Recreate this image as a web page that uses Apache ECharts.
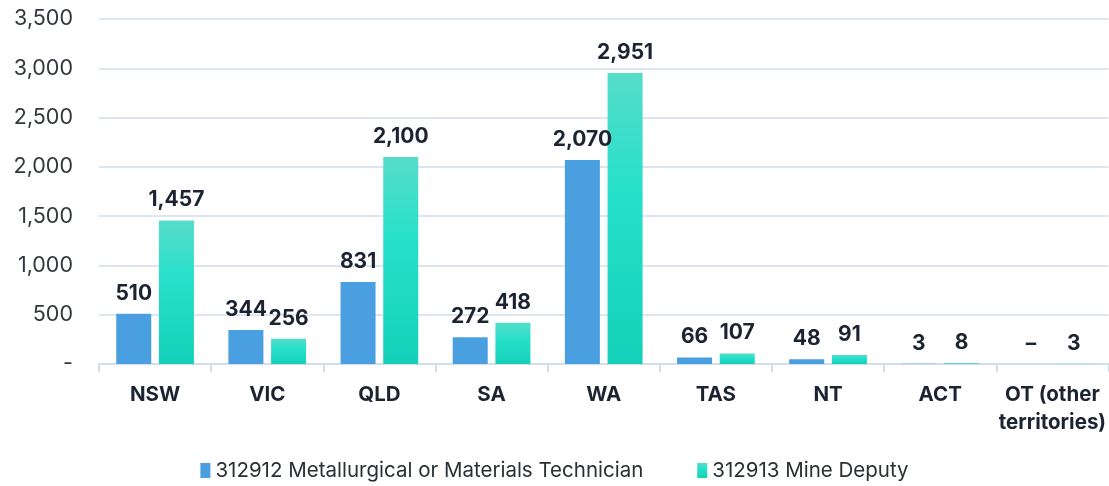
<!DOCTYPE html>
<html><head><meta charset="utf-8">
<script src="https://cdn.jsdelivr.net/npm/echarts@6/dist/echarts.min.js"></script>
<style>html,body{margin:0;padding:0;background:#fff}#c{width:1109px;height:486px}</style>
</head><body><div id="c"></div>
<script>
var categories = ['NSW','VIC','QLD','SA','WA','TAS','NT','ACT','OT (other\nterritories)'];
var seriesNames = ['312912 Metallurgical or Materials Technician','312913 Mine Deputy'];
var metallurgical = [510,344,831,272,2070,66,48,3,0];
var mineDeputy = [1457,256,2100,418,2951,107,91,8,3];
var yTicks = [0,500,1000,1500,2000,2500,3000,3500];

var font = 'Inter, "Noto Sans", sans-serif';
function fmt(v){ return v === 0 ? '–' : v.toLocaleString('en-US'); }
var labelStyle = {show:true, position:'top', distance:10, fontFamily:font, fontWeight:'bold', fontSize:21, color:'#1b2430',
  formatter:function(p){return fmt(p.value);}};

var chart = echarts.init(document.getElementById('c'));
chart.setOption({
  animation:false,
  grid:{left:99, right:-1, top:19, bottom:122},
  legend:{bottom:0, left:'center', itemWidth:10, itemHeight:15, itemGap:54, icon:'rect',
    textStyle:{fontFamily:font, fontSize:20.5, color:'#2a2f36'}, data:seriesNames},
  xAxis:{type:'category', data:categories,
    axisLine:{lineStyle:{color:'#d3deea', width:2}},
    axisTick:{show:true, length:8, lineStyle:{color:'#d3deea', width:2}},
    axisLabel:{fontFamily:font, fontWeight:'bold', fontSize:20.5, color:'#1b2430', margin:17, lineHeight:28, interval:0}},
  yAxis:{type:'value', min:0, max:3500, interval:500,
    axisLine:{show:false}, axisTick:{show:false},
    splitLine:{lineStyle:{color:'#dde6ef', width:2}},
    axisLabel:{fontFamily:font, fontSize:21.5, color:'#33383e', margin:26,
      formatter:function(v){ return yTicks.indexOf(v)>=0 ? (v===0?'-':v.toLocaleString('en-US')) : ''; }}},
  series:[
    {name:seriesNames[0], type:'bar', data:metallurgical, barWidth:35, barGap:'22%',
      itemStyle:{color:'#4a9fe0'}, label:labelStyle},
    {name:seriesNames[1], type:'bar', data:mineDeputy, barWidth:35,
      itemStyle:{color:new echarts.graphic.LinearGradient(0,0,0,1,[{offset:0,color:'#55ddc9'},{offset:0.4,color:'#27e0cb'},{offset:1,color:'#14d0b9'}])},
      label:labelStyle}
  ]
});
</script></body></html>
